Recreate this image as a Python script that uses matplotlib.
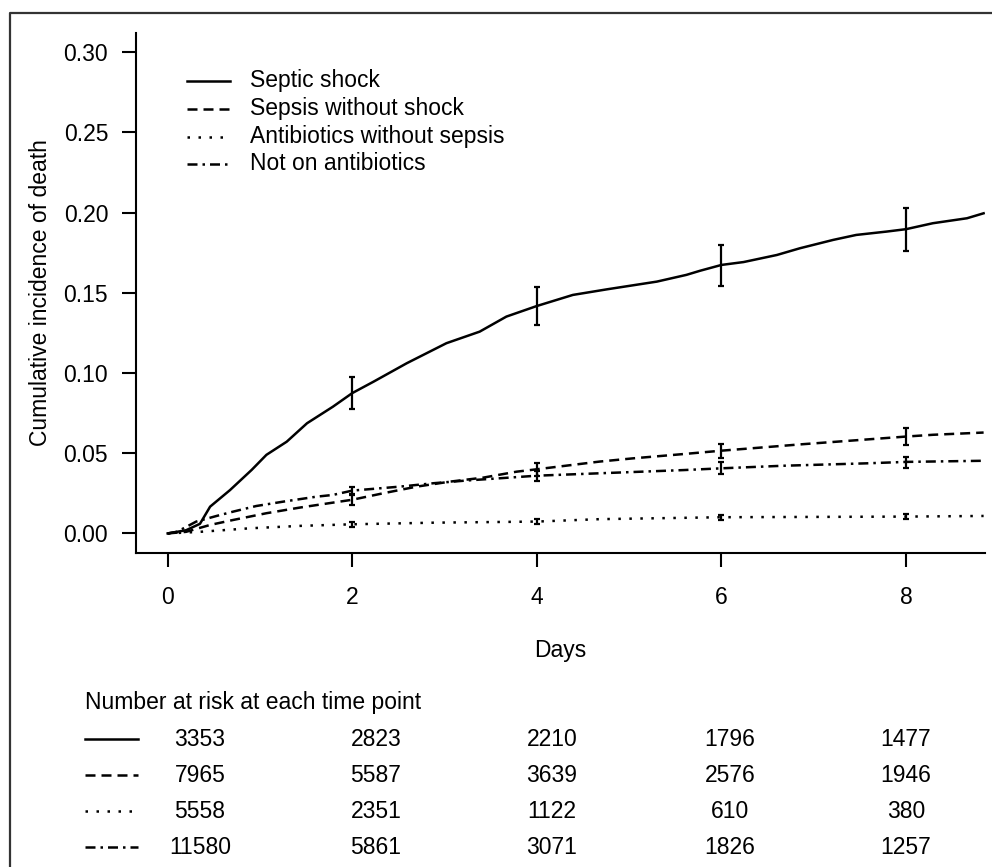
import numpy as np
from matplotlib import pyplot as plt
from matplotlib.lines import Line2D

plt.rcParams['font.family'] = ['Liberation Sans', 'DejaVu Sans']

W, H = 992, 867

groups = ["Septic shock", "Sepsis without shock",
          "Antibiotics without sepsis", "Not on antibiotics"]

# curves (days, cumulative incidence)
shock_t = [0, 0.2, 0.35, 0.46, 0.675, 0.91, 1.07, 1.29, 1.51, 1.79, 2.0,
           2.23, 2.59, 3.02, 3.38, 3.67, 4.0, 4.39, 4.76, 5.3, 5.62, 5.77,
           6.0, 6.24, 6.6, 6.85, 7.21, 7.46, 7.79, 8.0, 8.29, 8.66, 8.84]
shock_y = [0, 0.002, 0.006, 0.0167, 0.027, 0.0396, 0.049, 0.0572, 0.0687,
           0.079, 0.0875, 0.0946, 0.1061, 0.1186, 0.1258, 0.1352, 0.1418,
           0.1487, 0.1522, 0.157, 0.1612, 0.1638, 0.1674, 0.1692, 0.1736,
           0.1778, 0.183, 0.1861, 0.1882, 0.1897, 0.1934, 0.1965, 0.1996]

sepsis_t = [0, 0.2, 0.46, 0.71, 1.07, 1.43, 1.79, 2.0, 2.34, 2.7, 3.06,
            3.42, 3.78, 4.0, 4.68, 5.04, 5.59, 6.0, 6.31, 6.85, 7.39, 7.86,
            8.0, 8.29, 8.84]
sepsis_y = [0, 0.001, 0.0053, 0.0084, 0.0126, 0.0161, 0.0192, 0.021,
            0.0251, 0.0292, 0.0323, 0.0348, 0.0385, 0.040, 0.0448, 0.0468,
            0.0495, 0.0516, 0.053, 0.0555, 0.0578, 0.0598, 0.0604, 0.0615,
            0.0629]

abx_t = [0, 0.35, 0.89, 1.43, 2.0, 2.88, 4.0, 4.68, 6.0, 8.0, 8.84]
abx_y = [0, 0.001, 0.0032, 0.0047, 0.0057, 0.0067, 0.0074, 0.0089,
         0.0101, 0.0105, 0.0109]

noabx_t = [0, 0.1, 0.31, 0.53, 0.71, 0.96, 1.25, 1.61, 1.79, 2.0, 2.52,
           2.88, 3.24, 3.6, 4.0, 4.68, 5.59, 6.0, 6.67, 7.57, 8.0, 8.84]
noabx_y = [0, 0.001, 0.0074, 0.0109, 0.0136, 0.0171, 0.0198, 0.0229,
           0.024, 0.0267, 0.0292, 0.0313, 0.033, 0.0344, 0.036, 0.0375,
           0.0395, 0.0406, 0.0422, 0.0437, 0.0446, 0.0453]

# confidence intervals at days 2, 4, 6, 8
ci_days = [2, 4, 6, 8]
shock_ci = ([0.0875, 0.1418, 0.1674, 0.1897],
            [0.0774, 0.130, 0.1543, 0.1763],
            [0.0976, 0.1535, 0.1799, 0.2031])
sepsis_ci = ([0.021, 0.040, 0.0516, 0.0604],
             [0.018, 0.036, 0.047, 0.0552],
             [0.024, 0.044, 0.0558, 0.0656])
abx_ci = ([0.0057, 0.0074, 0.0101, 0.0105],
          [0.0043, 0.006, 0.0085, 0.0087],
          [0.0071, 0.0088, 0.0117, 0.0123])
noabx_ci = ([0.0267, 0.036, 0.0406, 0.0446],
            [0.0245, 0.033, 0.0369, 0.0406],
            [0.0292, 0.0392, 0.0448, 0.0479])

risk_days = [0, 2, 4, 6, 8]
at_risk = [[3353, 2823, 2210, 1796, 1477],
           [7965, 5587, 3639, 2576, 1946],
           [5558, 2351, 1122, 610, 380],
           [11580, 5861, 3071, 1826, 1257]]

styles = ["-", (0, (4.0, 2.4)), (0, (1.0, 3.4)), (0, (4.0, 2.0, 1.0, 2.0))]
curves = [(shock_t, shock_y, shock_ci), (sepsis_t, sepsis_y, sepsis_ci),
          (abx_t, abx_y, abx_ci), (noabx_t, noabx_y, noabx_ci)]
LW = 1.8
FS = 16.5


def fx(x):
    return x / W


def fy(y):
    return 1 - y / H


fig = plt.figure(figsize=(W / 100, H / 100), dpi=100)
ax = fig.add_axes([fx(136), fy(553), fx(985) - fx(136), fy(33) - fy(553)])

for (t, y, ci), ls in zip(curves, styles):
    ax.plot(t, y, color="black", lw=LW, linestyle=ls, solid_joinstyle="round")
    mid, lo, hi = ci
    ax.errorbar(ci_days, mid, yerr=[np.array(mid) - np.array(lo),
                                    np.array(hi) - np.array(mid)],
                fmt="none", ecolor="black", elinewidth=1.6, capsize=2.5,
                capthick=1.6)

ax.set_xlim(-0.343, 8.855)
ax.set_ylim(-0.0122, 0.312)
ax.set_xticks([0, 2, 4, 6, 8])
ax.set_yticks([0, 0.05, 0.10, 0.15, 0.20, 0.25, 0.30])
ax.set_yticklabels(["0.00", "0.05", "0.10", "0.15", "0.20", "0.25", "0.30"])
ax.tick_params(axis="both", labelsize=FS, length=10, width=1.5, color="black")
ax.tick_params(axis="y", pad=10)
ax.tick_params(axis="x", pad=14)
for s in ["top", "right"]:
    ax.spines[s].set_visible(False)
for s in ["left", "bottom"]:
    ax.spines[s].set_linewidth(1.5)

fig.text(fx(41), fy(293), "Cumulative incidence of death", rotation=90,
         ha="center", va="center", fontsize=FS)
fig.text(fx(560), fy(651), "Days", ha="center", va="center", fontsize=FS)

# legend
leg_rows = [81, 109, 137, 164]
for name, ls, yy in zip(groups, styles, leg_rows):
    fig.add_artist(Line2D([fx(187), fx(230)], [fy(yy), fy(yy)], color="black",
                          lw=LW, linestyle=ls))
    fig.text(fx(250), fy(yy), name, ha="left", va="center", fontsize=FS)

# number at risk table
fig.text(fx(85), fy(703), "Number at risk at each time point", ha="left",
         va="center", fontsize=FS)
col_x = [200, 376, 552, 730, 906]
row_y = [739, 775, 811, 847]
for counts, ls, yy in zip(at_risk, styles, row_y):
    fig.add_artist(Line2D([fx(85), fx(138)], [fy(yy), fy(yy)], color="black",
                          lw=LW, linestyle=ls))
    for c, xx in zip(counts, col_x):
        fig.text(fx(xx), fy(yy), str(c), ha="center", va="center", fontsize=FS)

# outer frame (cropped on the right and bottom)
fig.add_artist(Line2D([fx(10), fx(10), fx(992)], [fy(867), fy(13), fy(13)],
                      color="#333333", lw=1.6))

plt.savefig("out.png", dpi=100)
